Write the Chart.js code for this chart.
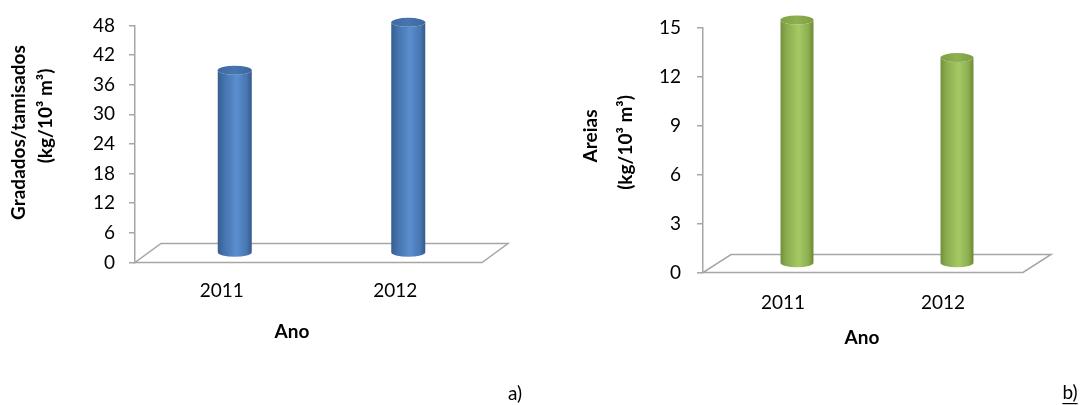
<!DOCTYPE html>
<html>
<head>
<meta charset="utf-8">
<script src="https://cdn.jsdelivr.net/npm/chart.js@4/dist/chart.umd.min.js"></script>
<style>
  body { margin: 0; background: #fff; }
  #wrap { position: relative; width: 1083px; height: 405px; }
  .box { position: absolute; top: 0; height: 405px; }
</style>
</head>
<body>
<div id="wrap">
  <div class="box" style="left:0;width:540px"><canvas id="chartA"></canvas></div>
  <div class="box" style="left:540px;width:543px"><canvas id="chartB"></canvas></div>
</div>
<script>
// data
const years = ["2011", "2012"];
const gradados = [37.0, 46.7];
const areias = [14.9, 12.6];
const ticksA = [0, 6, 12, 18, 24, 30, 36, 42, 48];
const ticksB = [0, 3, 6, 9, 12, 15];
const yTitleA = ["Gradados/tamisados", "(kg/10³ m³)"];
const yTitleB = ["Areias", "(kg/10³ m³)"];
const xTitle = "Ano";

const FONT = "Lato";
const GREY = "#A6A6A6";

// floor + cylinders drawn from the bar elements
const cylinders = {
  id: "cylinders",
  beforeDatasetsDraw(chart, args, opts) {
    const { ctx, chartArea } = chart;
    const y0 = chart.scales.y.getPixelForValue(0);
    ctx.save();
    ctx.strokeStyle = GREY;
    ctx.lineWidth = 1.5;
    ctx.beginPath();
    ctx.moveTo(chartArea.left, y0);
    ctx.lineTo(chartArea.right, y0);
    ctx.lineTo(chartArea.right + opts.depthX, y0 - opts.depthY);
    ctx.lineTo(chartArea.left + opts.depthX, y0 - opts.depthY);
    ctx.closePath();
    ctx.stroke();
    ctx.restore();
  },
  afterDatasetsDraw(chart, args, opts) {
    const ctx = chart.ctx;
    const sx = opts.depthX / 2, sy = opts.depthY / 2;
    chart.getDatasetMeta(0).data.forEach((bar) => {
      const x = bar.x + sx, top = bar.y - sy, base = bar.base - sy;
      const rx = bar.width / 2, ry = 4.5;
      ctx.save();
      const g = ctx.createLinearGradient(x - rx, 0, x + rx, 0);
      opts.body.forEach(([s, c]) => g.addColorStop(s, c));
      ctx.beginPath();
      ctx.moveTo(x - rx, top);
      ctx.lineTo(x - rx, base);
      ctx.ellipse(x, base, rx, ry, 0, Math.PI, 0, true);
      ctx.lineTo(x + rx, top);
      ctx.ellipse(x, top, rx, ry, 0, 0, Math.PI, false);
      ctx.closePath();
      ctx.fillStyle = g;
      ctx.fill();
      // top cap
      const cg = ctx.createLinearGradient(x - rx, 0, x + rx, 0);
      opts.cap.forEach(([s, c]) => cg.addColorStop(s, c));
      ctx.beginPath();
      ctx.ellipse(x, top, rx, ry, 0, 0, Math.PI * 2);
      ctx.fillStyle = cg;
      ctx.fill();
      ctx.restore();
    });
  },
};

// axis titles and panel tags
const texts = {
  id: "texts",
  afterDraw(chart, args, opts) {
    const ctx = chart.ctx;
    opts.items.forEach((it) => {
      ctx.save();
      ctx.translate(it.x, it.y);
      if (it.rotate) ctx.rotate(-Math.PI / 2);
      ctx.font = it.font;
      ctx.fillStyle = "#000";
      ctx.textAlign = "center";
      ctx.textBaseline = "middle";
      ctx.fillText(it.text, 0, 0);
      if (it.underline) {
        const w = ctx.measureText(it.text).width;
        ctx.fillRect(-w / 2, 10, w, 1.2);
      }
      ctx.restore();
    });
  },
};

function makeChart(id, values, tickVals, cfg) {
  const ctx = document.getElementById(id).getContext("2d");
  return new Chart(ctx, {
    type: "bar",
    data: {
      labels: years,
      datasets: [
        {
          data: values,
          backgroundColor: "rgba(0,0,0,0)",
          barPercentage: cfg.barPct,
          categoryPercentage: 1,
        },
      ],
    },
    plugins: [cylinders, texts],
    options: {
      responsive: true,
      maintainAspectRatio: false,
      animation: false,
      layout: { padding: { top: cfg.top, right: cfg.right, left: 0, bottom: 0 } },
      scales: {
        x: {
          grid: { display: false, drawTicks: false },
          border: { display: false },
          ticks: { color: "#000", font: { family: FONT, size: 19 }, padding: cfg.xPad },
          afterFit: (s) => { s.height = cfg.h - cfg.y0; },
        },
        y: {
          min: 0,
          max: tickVals[tickVals.length - 1],
          afterBuildTicks: (s) => { s.ticks = tickVals.map((v) => ({ value: v })); },
          afterFit: (s) => { s.width = cfg.axisX; },
          grid: { drawOnChartArea: false, tickLength: 6, color: GREY, lineWidth: 1.5 },
          border: { color: GREY, width: 1.5 },
          ticks: { color: "#000", font: { family: FONT, size: 19 }, padding: cfg.yPad },
        },
      },
      plugins: {
        legend: { display: false },
        tooltip: { enabled: false },
        cylinders: { depthX: cfg.depthX, depthY: cfg.depthY, body: cfg.body, cap: cfg.cap },
        texts: { items: cfg.texts },
      },
    },
  });
}

const blueBody = [[0, "#375E8F"], [0.18, "#4472AC"], [0.55, "#5A8ECF"], [0.85, "#4877B2"], [1, "#345989"]];
const blueCap = [[0, "#3E6AA2"], [0.5, "#4775AF"], [1, "#3C679D"]];
const greenBody = [[0, "#728F3A"], [0.18, "#8AAC4D"], [0.55, "#A6C966"], [0.85, "#8CAD4F"], [1, "#6C8935"]];
const greenCap = [[0, "#809F43"], [0.5, "#8EB050"], [1, "#7E9D41"]];

makeChart("chartA", gradados, ticksA, {
  top: 19, right: 58, h: 405, y0: 262.5, axisX: 135, xPad: 17, yPad: 14,
  barPct: 0.196, depthX: 26, depthY: 19, body: blueBody, cap: blueCap,
  texts: [
    { text: yTitleA[0], x: 19, y: 132.5, rotate: true, font: "bold 19px " + FONT },
    { text: yTitleA[1], x: 46, y: 116, rotate: true, font: "bold 19px " + FONT },
    { text: xTitle, x: 292, y: 331.5, font: "bold 19px " + FONT },
    { text: "a)", x: 515, y: 394, font: "19px " + FONT },
  ],
});

makeChart("chartB", areias, ticksB, {
  top: 15, right: 60, h: 405, y0: 272.5, axisX: 163, xPad: 19, yPad: 16,
  barPct: 0.206, depthX: 28, depthY: 18, body: greenBody, cap: greenCap,
  texts: [
    { text: yTitleB[0], x: 51, y: 136, rotate: true, font: "bold 19px " + FONT },
    { text: yTitleB[1], x: 86, y: 142.5, rotate: true, font: "bold 19px " + FONT },
    { text: xTitle, x: 322, y: 337.5, font: "bold 19px " + FONT },
    { text: "b)", x: 530, y: 393, font: "19px " + FONT, underline: true },
  ],
});
</script>
</body>
</html>
